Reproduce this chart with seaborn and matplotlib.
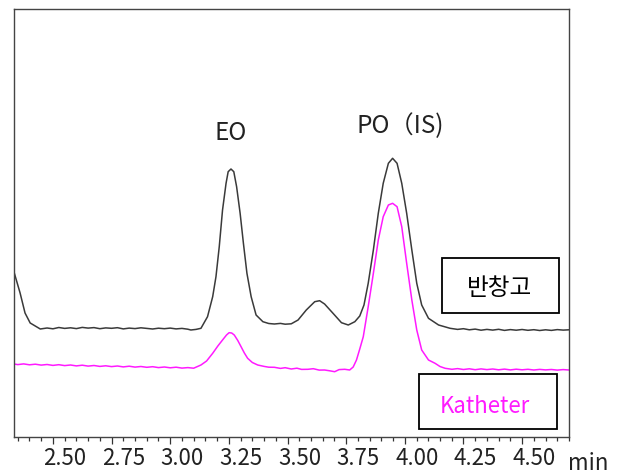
import matplotlib
matplotlib.use("Agg")
import matplotlib.pyplot as plt
from matplotlib.patches import Rectangle
from matplotlib.transforms import ScaledTranslation
from matplotlib.ticker import MultipleLocator
import seaborn as sns

# retention time (min) / detector signal
time_bandage = [2.334, 2.360, 2.381, 2.403, 2.446, 2.475, 2.500, 2.525, 2.550, 2.575,
                2.600, 2.625, 2.650, 2.675, 2.700, 2.725, 2.750, 2.775, 2.800, 2.825,
                2.850, 2.875, 2.900, 2.925, 2.950, 2.975, 3.000, 3.025, 3.050, 3.075,
                3.088, 3.110, 3.131, 3.159, 3.181, 3.195, 3.209, 3.223, 3.238, 3.247,
                3.259, 3.271, 3.283, 3.298, 3.312, 3.327, 3.345, 3.366, 3.395, 3.420,
                3.444, 3.470, 3.490, 3.516, 3.545, 3.580, 3.616, 3.637, 3.658, 3.694,
                3.730, 3.759, 3.787, 3.808, 3.826, 3.844, 3.866, 3.887, 3.908, 3.930,
                3.948, 3.967, 3.987, 4.008, 4.030, 4.051, 4.072, 4.101, 4.144, 4.193,
                4.225, 4.250, 4.275, 4.300, 4.325, 4.350, 4.375, 4.400, 4.425, 4.450,
                4.475, 4.500, 4.525, 4.550, 4.575, 4.600, 4.625, 4.650, 4.675, 4.700]
signal_bandage = [165.0, 144.0, 124.0, 114.0, 108.0, 109.0, 108.2, 109.5, 108.6, 109.2,
                  108.4, 109.6, 108.9, 109.4, 108.3, 109.1, 108.7, 109.3, 108.1, 108.9,
                  108.4, 109.2, 108.6, 108.0, 108.8, 108.3, 108.9, 108.1, 108.6, 107.8,
                  107.0, 107.6, 108.7, 120.3, 140.3, 160.3, 190.3, 227.0, 253.7, 265.3,
                  268.0, 265.3, 250.3, 223.7, 193.7, 163.7, 140.3, 122.0, 115.3, 113.5,
                  113.0, 113.6, 112.8, 113.2, 117.0, 127.0, 135.3, 136.3, 133.0, 123.7,
                  114.3, 112.0, 115.3, 121.0, 132.0, 153.7, 187.0, 223.7, 253.7, 273.7,
                  278.7, 273.7, 253.7, 223.7, 187.0, 153.7, 132.0, 118.7, 112.0, 108.7,
                  107.6, 108.3, 107.2, 107.9, 106.8, 107.6, 106.9, 107.7, 106.6, 107.4,
                  106.8, 107.5, 106.7, 107.3, 106.5, 107.2, 106.6, 107.4, 106.9, 107.2]

time_catheter = [2.334, 2.350, 2.375, 2.400, 2.425, 2.450, 2.475, 2.500, 2.525, 2.550,
                 2.575, 2.600, 2.625, 2.650, 2.675, 2.700, 2.725, 2.750, 2.775, 2.800,
                 2.825, 2.850, 2.875, 2.900, 2.925, 2.950, 2.975, 3.000, 3.025, 3.050,
                 3.075, 3.100, 3.131, 3.155, 3.181, 3.203, 3.223, 3.240, 3.251, 3.262,
                 3.273, 3.288, 3.302, 3.316, 3.330, 3.350, 3.373, 3.400, 3.420, 3.444,
                 3.470, 3.490, 3.516, 3.540, 3.560, 3.587, 3.610, 3.635, 3.658, 3.680,
                 3.701, 3.720, 3.744, 3.765, 3.780, 3.794, 3.808, 3.823, 3.844, 3.866,
                 3.887, 3.908, 3.930, 3.948, 3.967, 3.987, 4.008, 4.030, 4.051, 4.072,
                 4.101, 4.129, 4.150, 4.172, 4.201, 4.225, 4.250, 4.275, 4.300, 4.325,
                 4.350, 4.375, 4.400, 4.425, 4.450, 4.475, 4.500, 4.525, 4.550, 4.575,
                 4.600, 4.625, 4.650, 4.675, 4.700]
signal_catheter = [73.0, 72.4, 73.1, 72.2, 72.8, 71.9, 72.5, 71.6, 72.3, 71.4,
                   72.0, 71.1, 71.8, 70.9, 71.5, 70.6, 71.2, 70.4, 71.0, 70.1,
                   70.8, 69.9, 70.5, 69.7, 70.3, 69.4, 70.0, 69.2, 69.8, 68.9,
                   69.4, 68.8, 72.0, 76.0, 83.7, 91.0, 97.0, 102.0, 104.3, 104.0,
                   102.0, 96.5, 90.3, 84.0, 78.7, 74.5, 72.0, 70.6, 69.8, 69.7,
                   68.6, 69.3, 68.0, 68.8, 67.6, 67.7, 68.3, 66.9, 67.0, 66.2,
                   65.3, 67.4, 67.7, 67.0, 70.0, 77.0, 88.0, 100.3, 130.3, 163.7,
                   197.0, 220.3, 232.0, 233.7, 230.3, 210.3, 173.7, 137.0, 107.0, 87.0,
                   77.0, 73.7, 70.5, 68.7, 67.7, 68.4, 67.5, 68.2, 67.3, 68.1,
                   67.4, 68.0, 67.2, 67.9, 67.1, 67.8, 67.2, 67.7, 67.0, 67.6,
                   67.1, 67.5, 66.9, 67.4, 67.0]

tick_values = [2.50, 2.75, 3.00, 3.25, 3.50, 3.75, 4.00, 4.25, 4.50]
tick_labels = ["2.50", "2.75", "3.00", "3.25", "3.50", "3.75", "4.00", "4.25", "4.50"]

sns.set_style("white")
plt.rcParams["font.family"] = ["Noto Sans CJK KR", "DejaVu Sans"]

fig = plt.figure(figsize=(6.24, 4.75), dpi=100)
ax = fig.add_axes([14 / 624, 38 / 475, 555 / 624, 428 / 475])

sns.lineplot(x=time_bandage, y=signal_bandage, color="#3a3a3a", linewidth=1.1,
             errorbar=None, ax=ax)
sns.lineplot(x=time_catheter, y=signal_catheter, color="#ff1aff", linewidth=1.1,
             errorbar=None, ax=ax)

ax.set_xlim(2.334, 4.70)
ax.set_ylim(0, 428)
ax.set_yticks([])
ax.set_ylabel("")
ax.set_xticks(tick_values)
ax.set_xticklabels(tick_labels)
ax.xaxis.set_minor_locator(MultipleLocator(0.05))
ax.tick_params(axis="x", which="major", direction="out", length=5, width=0.9,
               color="#333333", labelsize=16, labelcolor="#222222", pad=2.5,
               bottom=True)
ax.tick_params(axis="x", which="minor", direction="out", length=3, width=0.9,
               color="#333333", bottom=True)
for spine in ax.spines.values():
    spine.set_color("#444444")
    spine.set_linewidth(1.0)

# labels in the source sit a little right of their ticks
shift = ScaledTranslation(0.12, 0, fig.dpi_scale_trans)
for lab in ax.get_xticklabels():
    lab.set_transform(lab.get_transform() + shift)

ax.text(1.034, -0.062, "min", transform=ax.transAxes, ha="center", va="center",
        fontsize=16, color="#222222")

# peak labels
ax.text(3.257, 304.5, "EO", ha="center", va="center", fontsize=17.5, color="#222222")
ax.text(3.981, 310.5, "PO（IS)", ha="center", va="center", fontsize=17.5,
        color="#222222")

# sample boxes
ax.add_patch(Rectangle((0.7717, 0.2904), 0.2108, 0.1271, transform=ax.transAxes,
                       fill=False, edgecolor="black", linewidth=1.3))
ax.text(0.8757, 0.3458, "반창고", transform=ax.transAxes, ha="center", va="center",
        fontsize=17, color="black")
ax.add_patch(Rectangle((0.7303, 0.018), 0.2476, 0.1285, transform=ax.transAxes,
                       fill=False, edgecolor="black", linewidth=1.3))
ax.text(0.8486, 0.0701, "Katheter", transform=ax.transAxes, ha="center", va="center",
        fontsize=16, color="#ff1aff")

fig.savefig("out.png", dpi=100)
